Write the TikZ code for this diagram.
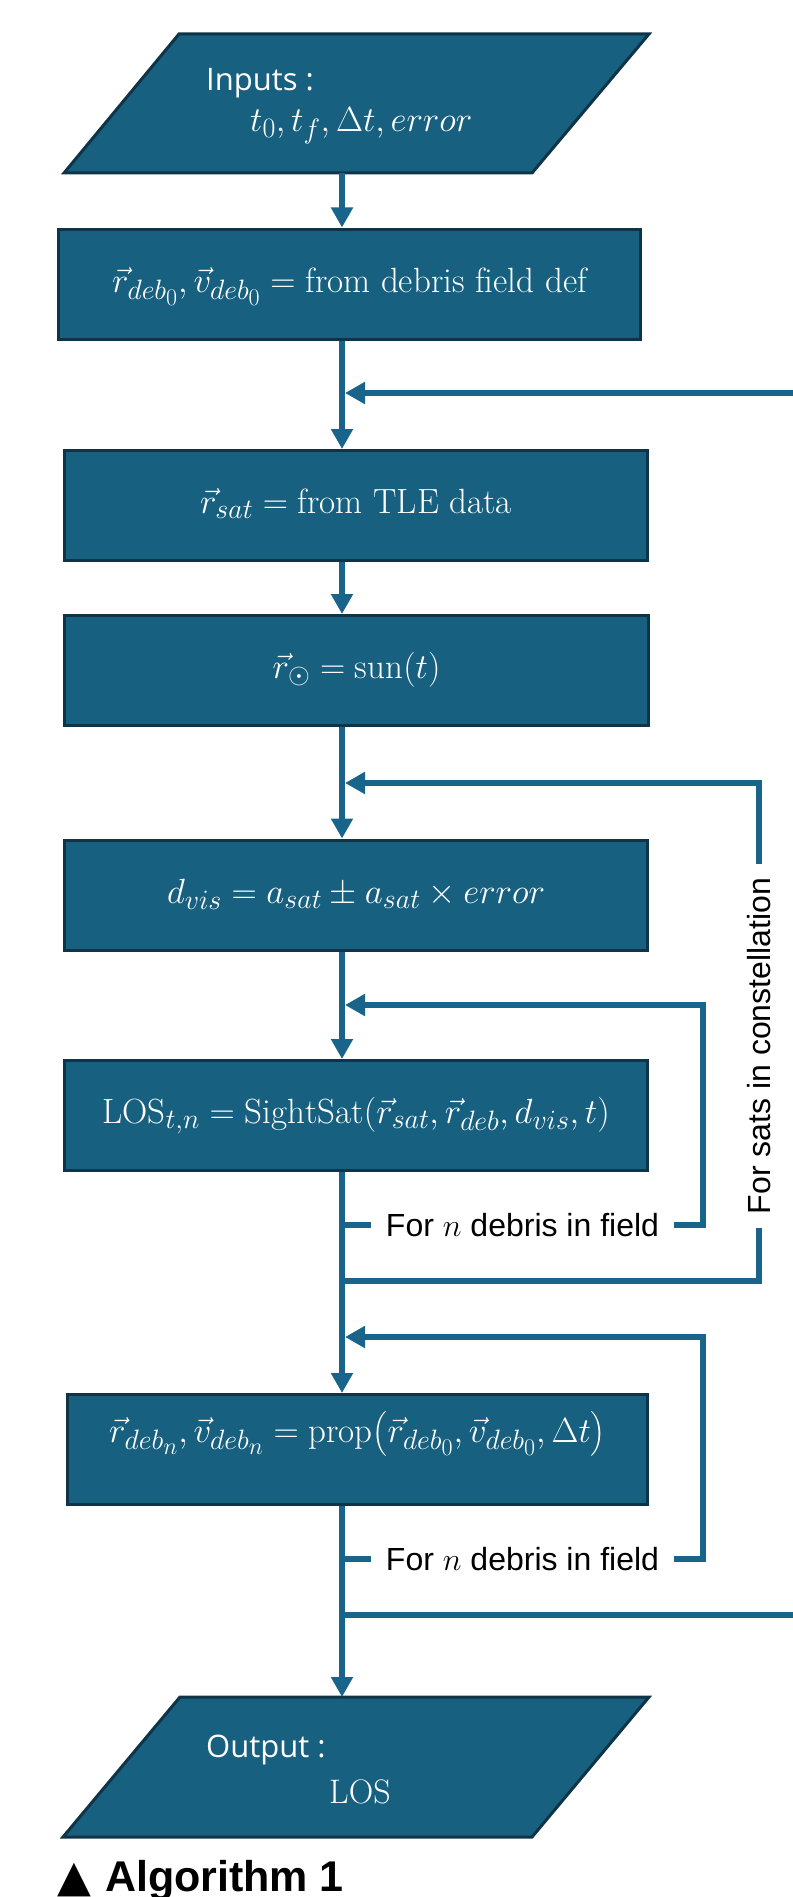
\RequirePackage{fix-cm}
\documentclass[tikz,border=0pt]{standalone}
\usepackage{fontspec}
\usepackage{amsmath}
\usetikzlibrary{arrows.meta}
\DeclareMathSizes{35}{35}{28}{24}
\newfontfamily\sansf{Liberation Sans}
\newfontfamily\opens{Open Sans}
\newfontfamily\djv{DejaVu Sans}
\definecolor{boxblue}{HTML}{186080}
\definecolor{boxedge}{HTML}{0F3447}
\definecolor{lineblue}{HTML}{19648A}
\tikzset{
  flowline/.style={draw=lineblue, line width=6pt, line join=miter},
  arr/.style={flowline, -{Triangle[length=20pt,width=21pt]}},
  joinarr/.style={arr, shorten >=3pt},
  box/.style={draw=boxedge, fill=boxblue, line width=3pt, text=white,
    minimum height=110pt, inner sep=0pt, font=\fontsize{35}{41}\selectfont,
    text height=25pt, text depth=9pt},
  para/.style={draw=boxedge, fill=boxblue, line width=3pt, line join=miter},
  plain/.style={text=white, inner sep=0pt},
  looplabel/.style={fill=white, text=black, inner xsep=15pt, inner ysep=3pt,
    font=\sansf\fontsize{32}{38}\selectfont},
  rotlabel/.style={fill=white, text=black, rotate=90, inner xsep=14pt, inner ysep=3pt,
    font=\sansf\fontsize{32}{38}\selectfont}
}
\begin{document}
\begin{tikzpicture}[x=1pt,y=-1pt]
\useasboundingbox (0,0) rectangle (792,1897);
\coordinate (mx) at (342,0);

% input parallelogram
\filldraw[para] (179,34) -- (649,34) -- (532,173) -- (64,173) -- cycle;
\coordinate (inB) at (342,173);
\node[plain, anchor=west, font=\opens\fontsize{31}{36}\selectfont] (inlbl) at (206,83) {Inputs :};
\node[plain, anchor=west, font=\fontsize{35}{41}\selectfont] (inmath) at (250,126) {$t_0, t_f, \Delta t, error$};

% process boxes
\node[box, minimum width=582pt] (b1) at (349.5,284) {$\vec{r}_{deb_0}, \vec{v}_{deb_0} = \mathrm{from\ debris\ field\ def}$};
\node[box, minimum width=583pt] (b2) at (356,505.5) {$\vec{r}_{sat} = \mathrm{from\ TLE\ data}$};
\node[box, minimum width=584pt] (b3) at (356.5,670.5) {$\vec{r}_{\odot} = \mathrm{sun}(t)$};
\node[box, minimum width=583pt] (b4) at (356,895) {$d_{vis} = a_{sat} \pm a_{sat} \times error$};
\node[box, minimum width=583pt] (b5) at (356,1115.5) {$\mathrm{LOS}_{t,n} = \mathrm{SightSat}(\vec{r}_{sat}, \vec{r}_{deb}, d_{vis}, t)$};
\node[box, minimum width=580pt, text depth=39pt] (b6) at (357.5,1449.5) {$\vec{r}_{deb_n}, \vec{v}_{deb_n} = \mathrm{prop}\!\left(\vec{r}_{deb_0}, \vec{v}_{deb_0}, \Delta t\right)$};

% output parallelogram
\filldraw[para] (180,1697) -- (649,1697) -- (532,1837) -- (63,1837) -- cycle;
\coordinate (outT) at (342,1697);
\node[plain, anchor=west, font=\opens\fontsize{31}{36}\selectfont] (outlbl) at (206,1750) {Output :};
\node[plain, anchor=west, font=\fontsize{34}{40}\selectfont] (outlos) at (329,1792) {$\mathrm{LOS}$};

% main flow
\draw[arr] (inB) -- (mx |- b1.north);
\draw[arr] (mx |- b1.south) -- (mx |- b2.north);
\draw[arr] (mx |- b2.south) -- (mx |- b3.north);
\draw[arr] (mx |- b3.south) -- (mx |- b4.north);
\draw[arr] (mx |- b4.south) -- (mx |- b5.north);
\draw[arr] (mx |- b5.south) -- (mx |- b6.north);
\draw[arr] (mx |- b6.south) -- (outT);

% time loop (leaves the page)
\coordinate (tin) at (810,393);
\coordinate (tout) at (810,1615);
\draw[joinarr] (tin) -- (mx |- tin);
\draw[flowline] (mx |- tout) -- (tout);

% sats loop
\coordinate (s1) at (342,1281);
\coordinate (s1r) at (759,1281);
\coordinate (s1t) at (759,783);
\draw[joinarr] (s1) -- (s1r) -- node[rotlabel, pos=0.472] (satlbl) {For sats in constellation} (s1t) -- (mx |- s1t);

% debris loop 1
\coordinate (d1) at (342,1225);
\coordinate (d1r) at (703,1225);
\coordinate (d1t) at (703,1005);
\draw[joinarr] (d1) -- node[looplabel] (deblbl1) {For $n$ debris in field} (d1r) -- (d1t) -- (mx |- d1t);

% debris loop 2
\coordinate (d2) at (342,1559);
\coordinate (d2r) at (703,1559);
\coordinate (d2t) at (703,1337);
\draw[joinarr] (d2) -- node[looplabel] (deblbl2) {For $n$ debris in field} (d2r) -- (d2t) -- (mx |- d2t);

% caption
\node[anchor=base west, inner sep=0pt] (title) at (57,1891) {{\djv\bfseries\fontsize{44}{50}\selectfont ▲}\hspace{14pt}{\sansf\bfseries\fontsize{43}{50}\selectfont Algorithm 1}};
\end{tikzpicture}
\end{document}
